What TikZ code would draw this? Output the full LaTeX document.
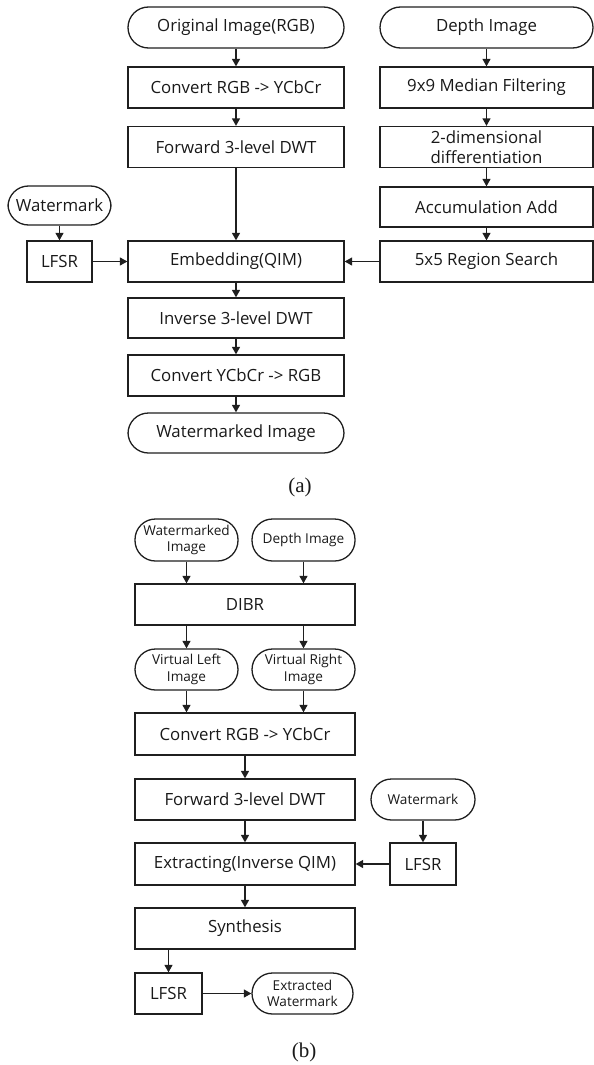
\documentclass[tikz,border=0pt]{standalone}
\usepackage{fontspec}
\setmainfont{Open Sans}
\newfontfamily\capfont{Liberation Serif}
\usetikzlibrary{arrows.meta}
\definecolor{ln}{gray}{0.12}
\definecolor{tx}{gray}{0.1}
\begin{document}
\begin{tikzpicture}[x=1pt,y=-1pt,
  box/.style={draw=ln, line width=1.3pt, minimum height=41pt, inner sep=0pt,
    font=\fontsize{16.8}{19.5}\selectfont, align=center, text=tx},
  term/.style={box, rounded corners=20.5pt},
  small/.style={font=\fontsize{13.6}{16.5}\selectfont},
  arr/.style={draw=ln, line width=1.3pt, -{Triangle[length=7.5pt,width=8pt]}},
  captext/.style={font=\capfont\fontsize{21}{23}\selectfont, text=tx}]
\useasboundingbox (0,0) rectangle (594,1065);

% ---------- (a) embedding ----------
\node[term, minimum width=216pt] (orig) at (236,27.5) {Original Image(RGB)};
\node[box,  minimum width=216pt] (conv1) at (236,87.5) {Convert RGB -> YCbCr};
\node[box,  minimum width=216pt] (fwd1) at (236,147) {Forward 3-level DWT};
\node[box,  minimum width=216pt] (emb) at (236,261.5) {Embedding(QIM)};
\node[box,  minimum width=216pt, minimum height=40pt] (inv) at (236,318) {Inverse 3-level DWT};
\node[box,  minimum width=216pt] (conv2) at (236,375.5) {Convert YCbCr -> RGB};
\node[term, minimum width=216pt, minimum height=40pt] (wmimg) at (236,433) {Watermarked Image};

\node[term, minimum width=213pt] (depth) at (486.5,27.5) {Depth Image};
\node[box,  minimum width=213pt] (med) at (486.5,87.5) {9x9 Median Filtering};
\node[box,  minimum width=213pt] (diff) at (486.5,147) {2-dimensional\\differentiation};
\node[box,  minimum width=213pt, minimum height=40pt] (acc) at (486.5,207) {Accumulation Add};
\node[box,  minimum width=213pt] (reg) at (486.5,261.5) {5x5 Region Search};

\node[term, minimum width=103pt, minimum height=39pt] (wm1) at (59.5,205.5) {Watermark};
\node[box,  minimum width=65pt] (lfsr1) at (59.5,261.5) {LFSR};

\draw[arr] (orig) -- (conv1);
\draw[arr] (conv1) -- (fwd1);
\draw[arr] (fwd1) -- (emb);
\draw[arr] (depth) -- (med);
\draw[arr] (med) -- (diff);
\draw[arr] (diff) -- (acc);
\draw[arr] (acc) -- (reg);
\draw[arr] (reg) -- (emb);
\draw[arr] (wm1) -- (lfsr1);
\draw[arr] (lfsr1) -- (emb);
\draw[arr] (emb) -- (inv);
\draw[arr] (inv) -- (conv2);
\draw[arr] (conv2) -- (wmimg);

\node[captext] (capa) at (300,487) {(a)};

% ---------- (b) extraction ----------
\node[term, small, minimum width=103pt, minimum height=42pt] (wmb) at (186.5,540) {Watermarked\\Image};
\node[term, small, minimum width=103pt, minimum height=42pt] (depb) at (303.5,540) {Depth Image};
\node[box, minimum width=220pt] (dibr) at (245,604.5) {DIBR};
\node[term, small, minimum width=103pt] (vl) at (186.5,669.5) {Virtual Left\\Image};
\node[term, small, minimum width=103pt] (vr) at (303.5,669.5) {Virtual Right\\Image};
\node[box, minimum width=220pt, minimum height=42pt] (conv3) at (245,734) {Convert RGB -> YCbCr};
\node[box, minimum width=220pt] (fwd2) at (245,799.5) {Forward 3-level DWT};
\node[term, small, minimum width=104pt] (wm2) at (423,799.5) {Watermark};
\node[box, minimum width=220pt, minimum height=42pt] (ext) at (245,864) {Extracting(Inverse QIM)};
\node[box, minimum width=66pt, minimum height=42pt] (lfsr2) at (423,864) {LFSR};
\node[box, minimum width=220pt] (syn) at (245,928.5) {Synthesis};
\node[box, minimum width=67pt] (lfsr3) at (168.5,993.5) {LFSR};
\node[term, small, minimum width=101pt] (extw) at (302.5,993.5) {Extracted\\Watermark};

\draw[arr] (wmb) -- (wmb |- dibr.north);
\draw[arr] (depb) -- (depb |- dibr.north);
\draw[arr] (vl |- dibr.south) -- (vl);
\draw[arr] (vr |- dibr.south) -- (vr);
\draw[arr] (vl) -- (vl |- conv3.north);
\draw[arr] (vr) -- (vr |- conv3.north);
\draw[arr] (conv3) -- (fwd2);
\draw[arr] (fwd2) -- (ext);
\draw[arr] (wm2) -- (lfsr2);
\draw[arr] (lfsr2) -- (ext);
\draw[arr] (ext) -- (syn);
\draw[arr] (lfsr3 |- syn.south) -- (lfsr3);
\draw[arr] (lfsr3) -- (extw);

\node[captext] (capb) at (304,1052) {(b)};
\end{tikzpicture}
\end{document}
